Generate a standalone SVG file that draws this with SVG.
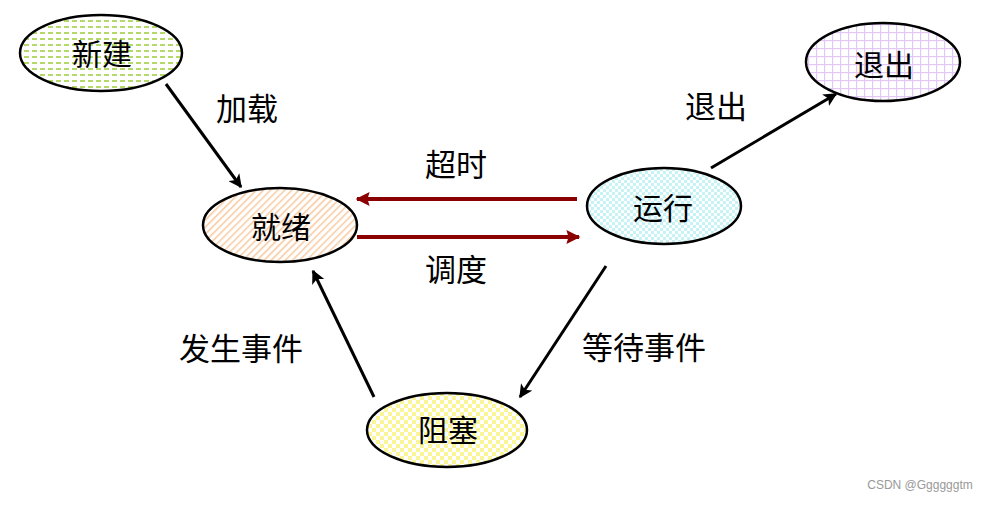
<svg xmlns="http://www.w3.org/2000/svg" width="990" height="505" viewBox="0 0 990 505">
<defs>
<pattern id="pGreen" width="8" height="6" patternUnits="userSpaceOnUse">
<rect width="8" height="6" fill="#fff"/>
<rect x="0" y="2" width="5" height="2" fill="#b5d86a"/>
</pattern>
<pattern id="pOrange" width="5" height="5" patternUnits="userSpaceOnUse" patternTransform="rotate(-45)">
<rect width="5" height="5" fill="#fff"/>
<rect x="0" y="0" width="5" height="1.5" fill="#f8c9a0"/>
</pattern>
<pattern id="pCyan" width="6" height="6" patternUnits="userSpaceOnUse">
<rect width="6" height="6" fill="#fff"/>
<rect x="0" y="0" width="3" height="3" fill="#c6f3f6"/>
<rect x="3" y="3" width="3" height="3" fill="#c6f3f6"/>
</pattern>
<pattern id="pPurple" width="8" height="8" patternUnits="userSpaceOnUse">
<rect width="8" height="8" fill="#fff"/>
<rect x="0" y="0" width="8" height="1.2" fill="#e2c8f7"/>
<rect x="0" y="0" width="1.2" height="8" fill="#e2c8f7"/>
</pattern>
<pattern id="pYellow" width="8" height="8" patternUnits="userSpaceOnUse">
<rect width="8" height="8" fill="#fff"/>
<rect x="0" y="0" width="4" height="4" fill="#fbf59a"/>
<rect x="4" y="4" width="4" height="4" fill="#fbf59a"/>
</pattern>
<marker id="ab" viewBox="0 0 10 10" refX="9" refY="5" markerWidth="4.5" markerHeight="4.5" orient="auto" markerUnits="strokeWidth">
<path d="M0,0 L10,5 L0,10 L2.5,5 z" fill="#000"/>
</marker>
<marker id="ar" viewBox="0 0 10 10" refX="9" refY="5" markerWidth="4.5" markerHeight="3.5" orient="auto" markerUnits="strokeWidth">
<path d="M0,0 L10,5 L0,10 L1.5,5 z" fill="#8b0000"/>
</marker>
</defs>
<style>
.node ellipse{stroke:#000;stroke-width:2.5}
.t{font-family:"Liberation Serif","Noto Sans CJK SC",serif;font-size:30px;fill:#000;text-anchor:middle;dominant-baseline:central}
.lbl{font-family:"Liberation Serif","Noto Sans CJK SC",serif;font-size:31px;fill:#000;text-anchor:middle;dominant-baseline:central}
.blk{stroke:#000;stroke-width:3;fill:none;marker-end:url(#ab)}
.red{stroke:#8b0000;stroke-width:4;fill:none;marker-end:url(#ar)}
</style>
<rect width="990" height="505" fill="#fff"/>
<g id="connectors">
<line class="blk" x1="166" y1="84" x2="241" y2="187"/>
<line class="blk" x1="711" y1="168" x2="836" y2="94"/>
<line class="red" x1="577" y1="199" x2="357" y2="199"/>
<line class="red" x1="357" y1="237" x2="579" y2="237"/>
<line class="blk" x1="606" y1="266" x2="520" y2="397"/>
<line class="blk" x1="374" y1="397" x2="313" y2="271"/>
</g>
<g id="labels">
<text class="lbl" x="247" y="109">加载</text>
<text class="lbl" x="716" y="107">退出</text>
<text class="lbl" x="456" y="165">超时</text>
<text class="lbl" x="456" y="270">调度</text>
<text class="lbl" x="241" y="349">发生事件</text>
<text class="lbl" x="644" y="348">等待事件</text>
</g>
<g id="node-new" class="node">
<ellipse cx="101" cy="53" rx="81" ry="38" fill="url(#pGreen)"/>
<text class="t" x="102" y="54">新建</text>
</g>
<g id="node-ready" class="node">
<ellipse cx="280" cy="225" rx="77" ry="37" fill="url(#pOrange)"/>
<text class="t" x="281" y="227">就绪</text>
</g>
<g id="node-running" class="node">
<ellipse cx="664" cy="206" rx="77" ry="38" fill="url(#pCyan)"/>
<text class="t" x="663" y="208">运行</text>
</g>
<g id="node-exit" class="node">
<ellipse cx="883" cy="62" rx="77" ry="39" fill="url(#pPurple)"/>
<text class="t" x="884" y="65">退出</text>
</g>
<g id="node-blocked" class="node">
<ellipse cx="447" cy="430" rx="80" ry="37" fill="url(#pYellow)"/>
<text class="t" x="448" y="430">阻塞</text>
</g>
<text x="920" y="489" font-family="Liberation Sans,Arial,sans-serif" font-size="12" fill="#999" text-anchor="middle">CSDN @Ggggggtm</text>
</svg>
